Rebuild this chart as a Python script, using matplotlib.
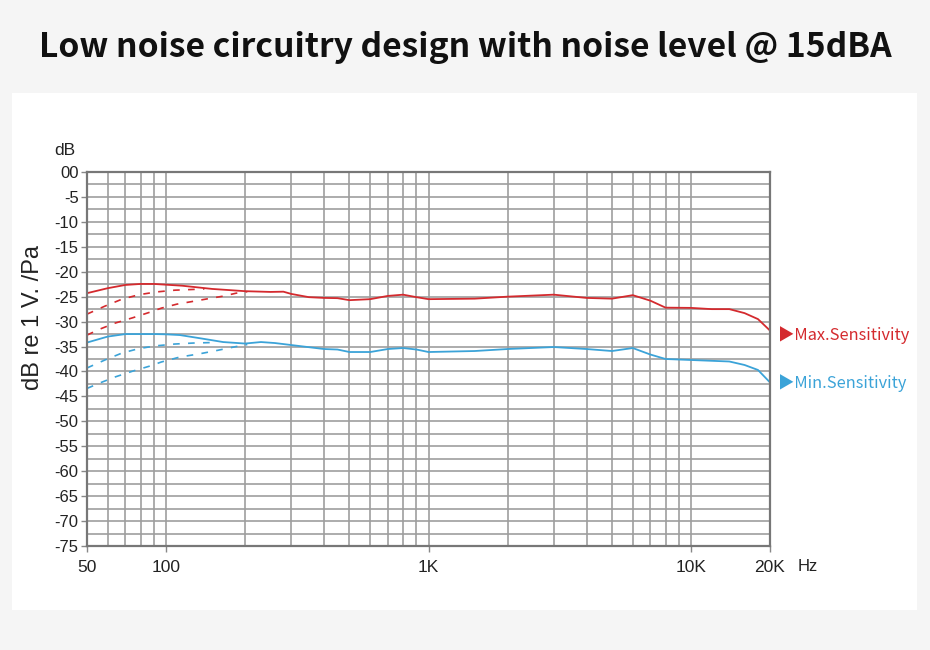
import numpy as np
import matplotlib
matplotlib.use('Agg')
import matplotlib.pyplot as plt
from matplotlib.patches import Rectangle
from matplotlib.ticker import FixedLocator, NullFormatter

# 数据
max_freq = [50, 60, 70, 80, 90, 100, 115, 130, 150, 200, 250, 280, 300, 350, 400, 450, 500,
            600, 700, 800, 900, 1000, 1500, 2000, 3000, 4000, 5000, 6000, 7000, 8000,
            10000, 12000, 14000, 16000, 18000, 20000]
max_db = [-24.3, -23.3, -22.65, -22.45, -22.45, -22.6, -22.8, -23.1, -23.45, -23.9, -24.05,
          -24.0, -24.45, -25.1, -25.25, -25.3, -25.7, -25.5, -24.85, -24.6, -25.1, -25.5,
          -25.4, -25.0, -24.6, -25.25, -25.4, -24.7, -25.8, -27.2, -27.25, -27.5, -27.5,
          -28.3, -29.5, -31.8]

min_freq = [50, 60, 70, 80, 90, 100, 113, 137, 165, 200, 230, 260, 300, 400, 450, 500, 600,
            700, 800, 900, 1000, 1500, 2000, 3000, 4000, 5000, 6000, 7000, 8000, 10000,
            14000, 16000, 18000, 20000]
min_db = [-34.2, -33.0, -32.5, -32.5, -32.5, -32.55, -32.7, -33.4, -34.1, -34.4, -34.1,
          -34.3, -34.7, -35.5, -35.6, -36.1, -36.1, -35.5, -35.3, -35.6, -36.1, -35.9,
          -35.5, -35.1, -35.5, -35.9, -35.3, -36.6, -37.5, -37.7, -38.0, -38.7, -39.7, -42.2]

# 低频滚降虚线
max_cut1_f = [50, 58.5, 68, 79, 92, 108, 127, 140]
max_cut1_db = [-28.5, -26.9, -25.5, -24.6, -24.05, -23.7, -23.55, -23.45]
max_cut2_f = [50, 56, 64, 75, 87, 96, 110, 125, 145, 165, 185, 204]
max_cut2_db = [-32.7, -31.5, -30.3, -29.2, -28.1, -27.3, -26.5, -26.0, -25.4, -24.9, -24.3, -24.0]
min_cut1_f = [50, 58.5, 68, 79, 92, 108, 127, 150]
min_cut1_db = [-39.3, -37.7, -36.3, -35.4, -34.85, -34.5, -34.3, -34.2]
min_cut2_f = [50, 56, 64, 75, 87, 96, 113, 133, 156, 181, 204]
min_cut2_db = [-43.4, -42.3, -41.1, -39.9, -38.9, -38.1, -37.1, -36.5, -35.8, -35.1, -34.6]

x_ticks = [50, 100, 1000, 10000, 20000]
x_labels = ['50', '100', '1K', '10K', '20K']
y_ticks = list(range(0, -80, -5))
y_labels = ['00'] + [str(v) for v in y_ticks[1:]]

RED = '#d42a2e'
BLUE = '#3ba3d8'
GRID = '#9e9e9e'

fig = plt.figure(figsize=(9.3, 6.5), dpi=100)
fig.patch.set_facecolor('#f5f5f5')
fig.patches.append(Rectangle((12 / 930, 1 - 610 / 650), 905 / 930, 517 / 650,
                             transform=fig.transFigure, facecolor='white',
                             edgecolor='none', zorder=-1))

fig.text(0.5, 1 - 48 / 650, 'Low noise circuitry design with noise level @ 15dBA',
         ha='center', va='center', fontsize=24.2, fontweight='bold',
         family=['Noto Sans CJK SC', 'DejaVu Sans'], color='#111111')

ax = fig.add_axes([87 / 930, 1 - 546 / 650, 683 / 930, 374 / 650])
ax.set_zorder(1)
ax.set_facecolor('white')
ax.set_xscale('log')
ax.set_xlim(50, 20000)
ax.set_ylim(-75, 0)

# 网格
minor_f = [f * d for d in (1, 10, 100, 1000) for f in range(10, 100, 10)]
minor_f = [f for f in minor_f if 50 < f < 20000]
for f in minor_f:
    ax.axvline(f, color=GRID, lw=1.2, zorder=1)
for v in np.arange(-72.5, 0, 2.5):
    ax.axhline(v, color=GRID, lw=1.2, zorder=1)

ax.plot(max_freq, max_db, color=RED, lw=1.3, zorder=3)
ax.plot(min_freq, min_db, color=BLUE, lw=1.3, zorder=3)
for f, d, c in [(max_cut1_f, max_cut1_db, RED), (max_cut2_f, max_cut2_db, RED),
                (min_cut1_f, min_cut1_db, BLUE), (min_cut2_f, min_cut2_db, BLUE)]:
    ax.plot(f, d, color=c, lw=1.2, linestyle=(0, (4, 5)), zorder=3)

ax.xaxis.set_major_locator(FixedLocator(x_ticks))
ax.set_xticklabels(x_labels)
ax.xaxis.set_minor_locator(FixedLocator([]))
ax.xaxis.set_minor_formatter(NullFormatter())
ax.set_yticks(y_ticks)
ax.set_yticklabels(y_labels)

ax.tick_params(axis='x', direction='out', length=4, width=1, color='#888888',
               labelsize=12.5, pad=6)
ax.tick_params(axis='y', direction='out', length=4, width=1, color='#888888',
               labelsize=12, pad=2)
for lab in ax.get_xticklabels() + ax.get_yticklabels():
    lab.set_family('Liberation Sans')
    lab.set_color('#222222')

for s in ax.spines.values():
    s.set_color('#777777')
    s.set_linewidth(1.6)
    s.set_zorder(4)

fig.text(33 / 930, 1 - 318 / 650, 'dB re 1 V. /Pa', rotation=90, ha='center',
         va='center', fontsize=17, family='Liberation Sans', color='#222222')
fig.text(65 / 930, 1 - 150 / 650, 'dB', ha='center', va='center',
         fontsize=12.5, family='Liberation Sans', color='#222222')
ax.text(1.055, -0.055, 'Hz', transform=ax.transAxes, ha='center', va='center',
        fontsize=12, family='Liberation Sans', color='#222222')

ax.text(1.012, 0.565, '\u25b6Max.Sensitivity', transform=ax.transAxes, ha='left',
        va='center', fontsize=11.8, color=RED, family=['Noto Sans CJK SC', 'DejaVu Sans'])
ax.text(1.012, 0.435, '\u25b6Min.Sensitivity', transform=ax.transAxes, ha='left',
        va='center', fontsize=11.8, color=BLUE, family=['Noto Sans CJK SC', 'DejaVu Sans'])

fig.savefig('out.png', dpi=100, facecolor=fig.get_facecolor())
